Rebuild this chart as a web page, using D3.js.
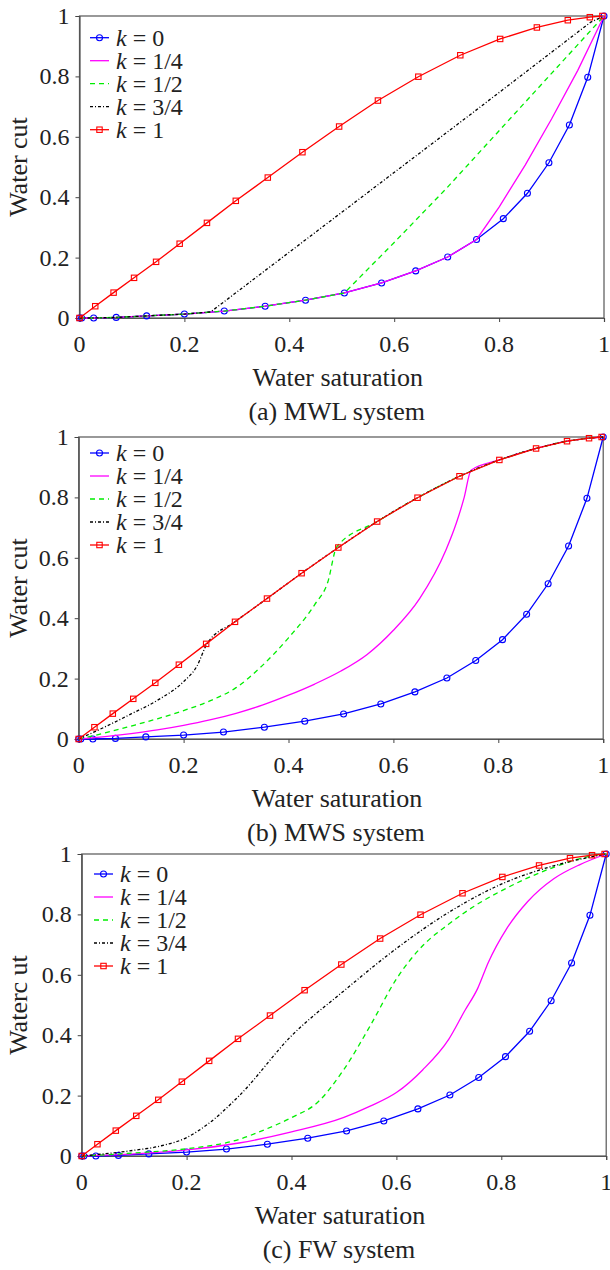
<!DOCTYPE html>
<html>
<head>
<meta charset="utf-8">
<script src="https://cdnjs.cloudflare.com/ajax/libs/d3/7.8.5/d3.min.js"></script>
</head>
<body style="margin:0">
<script>
// k = 0 and k = 1 curves are the same in all three panels
let swK0 = [0, 0.004, 0.027, 0.07, 0.128, 0.2, 0.276, 0.354, 0.431, 0.505, 0.576, 0.641, 0.702, 0.757, 0.808, 0.854, 0.895, 0.934, 0.969, 1];
let fwK0 = [0, 0, 0, 0.002, 0.007, 0.013, 0.023, 0.039, 0.059, 0.083, 0.116, 0.156, 0.202, 0.26, 0.329, 0.413, 0.514, 0.639, 0.797, 1];
let swK1 = [0, 0.03, 0.065, 0.104, 0.146, 0.191, 0.243, 0.298, 0.359, 0.425, 0.495, 0.569, 0.646, 0.726, 0.802, 0.872, 0.931, 0.973, 0.997];
let fwK1 = [0, 0.039, 0.084, 0.133, 0.186, 0.246, 0.315, 0.388, 0.465, 0.549, 0.634, 0.72, 0.799, 0.87, 0.924, 0.962, 0.986, 0.996, 1];

// (a) MWL system
let swA14 = [0, 0.027, 0.07, 0.128, 0.2, 0.276, 0.354, 0.431, 0.505, 0.576, 0.641, 0.702, 0.757, 0.8, 0.85, 0.9, 0.95, 1];
let fwA14 = [0, 0, 0.002, 0.007, 0.013, 0.023, 0.039, 0.059, 0.083, 0.116, 0.156, 0.202, 0.26, 0.367, 0.507, 0.659, 0.82, 1];
let swA12 = [0, 0.027, 0.07, 0.128, 0.2, 0.276, 0.354, 0.431, 0.505, 0.6, 0.7, 0.8, 0.9, 1];
let fwA12 = [0, 0, 0.002, 0.007, 0.013, 0.023, 0.039, 0.059, 0.083, 0.25, 0.43, 0.62, 0.81, 1];
let swA34 = [0, 0.027, 0.07, 0.128, 0.2, 0.25, 0.5, 0.75, 0.975, 1];
let fwA34 = [0, 0, 0.002, 0.007, 0.013, 0.02, 0.35, 0.68, 0.98, 1];

// (b) MWS system
let swB14 = [0, 0.05, 0.1, 0.15, 0.2, 0.25, 0.3, 0.35, 0.4, 0.45, 0.5, 0.55, 0.6, 0.65, 0.7, 0.72, 0.735, 0.748, 0.802, 0.872, 0.931, 0.973, 1];
let fwB14 = [0, 0.008, 0.018, 0.03, 0.045, 0.063, 0.085, 0.112, 0.145, 0.182, 0.225, 0.28, 0.36, 0.465, 0.625, 0.715, 0.8, 0.89, 0.924, 0.962, 0.986, 0.996, 1];
let swB12 = [0, 0.05, 0.1, 0.15, 0.2, 0.25, 0.3, 0.35, 0.4, 0.45, 0.475, 0.492, 0.569, 0.646, 0.726, 0.802, 0.872, 0.931, 0.973, 1];
let fwB12 = [0, 0.02, 0.043, 0.067, 0.094, 0.126, 0.17, 0.243, 0.335, 0.445, 0.52, 0.636, 0.72, 0.799, 0.87, 0.924, 0.962, 0.986, 0.996, 1];
let swB34 = [0, 0.05, 0.1, 0.15, 0.2, 0.225, 0.245, 0.298, 0.359, 0.425, 0.495, 0.569, 0.646, 0.726, 0.802, 0.872, 0.931, 0.973, 1];
let fwB34 = [0, 0.04, 0.083, 0.128, 0.19, 0.24, 0.316, 0.388, 0.465, 0.549, 0.634, 0.72, 0.799, 0.87, 0.924, 0.962, 0.986, 0.996, 1];

// (c) FW system
let swC14 = [0, 0.1, 0.2, 0.3, 0.4, 0.5, 0.55, 0.6, 0.65, 0.7, 0.73, 0.755, 0.775, 0.81, 0.85, 0.9, 0.95, 1];
let fwC14 = [0, 0.007, 0.02, 0.043, 0.08, 0.128, 0.165, 0.21, 0.285, 0.387, 0.48, 0.555, 0.64, 0.752, 0.842, 0.918, 0.965, 1];
let swC12 = [0, 0.1, 0.2, 0.3, 0.35, 0.4, 0.45, 0.5, 0.55, 0.6, 0.65, 0.7, 0.75, 0.8, 0.9, 0.97, 1];
let fwC12 = [0, 0.01, 0.024, 0.055, 0.088, 0.127, 0.178, 0.287, 0.431, 0.586, 0.696, 0.768, 0.829, 0.878, 0.956, 0.993, 1];
let swC34 = [0, 0.1, 0.15, 0.2, 0.24, 0.3, 0.4, 0.5, 0.6, 0.7, 0.8, 0.9, 1];
let fwC34 = [0, 0.019, 0.033, 0.061, 0.105, 0.199, 0.398, 0.547, 0.687, 0.807, 0.9, 0.961, 1];

let ticks = [0, 0.2, 0.4, 0.6, 0.8, 1];
let legendLabels = ["0", "1/4", "1/2", "3/4", "1"];
let captions = ["(a) MWL system", "(b) MWS system", "(c) FW system"];
let yTitles = ["Water cut", "Water cut", "Waterc ut"];

let styles = [
  {color: "#0000ff", dash: null, marker: "circle"},
  {color: "#ff00ff", dash: null, marker: null},
  {color: "#00ee00", dash: "5,4", marker: null},
  {color: "#000000", dash: "3,2,1,2", marker: null},
  {color: "#ff0000", dash: null, marker: "square"}
];

let panels = [
  {top: 16, left: 79.5, legY: 37.7, legX: 90, smooth: false,
   series: [[swK0, fwK0], [swA14, fwA14], [swA12, fwA12], [swA34, fwA34], [swK1, fwK1]]},
  {top: 437, left: 78.7, legY: 453, legX: 90, smooth: true,
   series: [[swK0, fwK0], [swB14, fwB14], [swB12, fwB12], [swB34, fwB34], [swK1, fwK1]]},
  {top: 854, left: 81.7, legY: 874, legX: 94, smooth: true,
   series: [[swK0, fwK0], [swC14, fwC14], [swC12, fwC12], [swC34, fwC34], [swK1, fwK1]]}
];

let W = 524.5, H = 302;

let svg = d3.select("body").append("svg")
  .attr("width", 610)
  .attr("height", 1270)
  .style("display", "block");

svg.append("rect").attr("width", 610).attr("height", 1270).attr("fill", "#fff");

function drawMarker(g, type, x, y, color) {
  if (type === "circle") {
    g.append("circle").attr("cx", x).attr("cy", y).attr("r", 3)
      .attr("fill", "none").attr("stroke", color).attr("stroke-width", 1.1);
  } else if (type === "square") {
    g.append("rect").attr("x", x - 2.7).attr("y", y - 2.7)
      .attr("width", 5.4).attr("height", 5.4)
      .attr("fill", "none").attr("stroke", color).attr("stroke-width", 1.1);
  }
}

function serifText(parent, size) {
  return parent.append("text")
    .attr("font-family", "Liberation Serif")
    .attr("font-size", size)
    .attr("fill", "#222");
}

panels.forEach(function(p, pi) {
  let g = svg.append("g").attr("transform", "translate(" + p.left + "," + p.top + ")");

  let x = d3.scaleLinear().domain([0, 1]).range([0, W]);
  let y = d3.scaleLinear().domain([0, 1]).range([H, 0]);

  // box
  g.append("rect").attr("width", W).attr("height", H)
    .attr("fill", "none").attr("stroke", "#555").attr("stroke-width", 1.2);

  // axis lines and ticks from d3, labels set below with the serif font
  let xAxis = g.append("g").attr("transform", "translate(0," + H + ")")
    .call(d3.axisBottom(x).tickValues(ticks).tickSize(4).tickFormat(""));
  let yAxis = g.append("g")
    .call(d3.axisLeft(y).tickValues(ticks).tickSize(4).tickFormat(""));
  [xAxis, yAxis].forEach(function(a) {
    a.select(".domain").attr("stroke", "#555").attr("stroke-width", 1.2);
    a.selectAll(".tick line").attr("stroke", "#444");
  });
  ticks.forEach(function(t) {
    serifText(g, 24).attr("x", x(t)).attr("y", H + 34)
      .attr("text-anchor", "middle")
      .text(d3.format("~g")(t));
    serifText(g, 24).attr("x", -10).attr("y", y(t) + 8)
      .attr("text-anchor", "end")
      .text(d3.format("~g")(t));
  });

  // curves
  p.series.forEach(function(s, si) {
    let st = styles[si];
    let pts = s[0].map(function(d, i) { return [d, s[1][i]]; });
    let line = d3.line()
      .x(function(d) { return x(d[0]); })
      .y(function(d) { return y(d[1]); })
      .curve(st.marker || !p.smooth ? d3.curveLinear : d3.curveMonotoneX);
    g.append("path").datum(pts)
      .attr("fill", "none")
      .attr("stroke", st.color)
      .attr("stroke-width", 1.3)
      .attr("stroke-dasharray", st.dash)
      .attr("d", line);
    if (st.marker) {
      pts.forEach(function(d) { drawMarker(g, st.marker, x(d[0]), y(d[1]), st.color); });
    }
  });

  // legend
  legendLabels.forEach(function(lab, i) {
    let ly = p.legY + i * 23;
    let st = styles[i];
    svg.append("line").attr("x1", p.legX).attr("x2", p.legX + 19)
      .attr("y1", ly).attr("y2", ly)
      .attr("stroke", st.color).attr("stroke-width", 1.3)
      .attr("stroke-dasharray", st.dash);
    if (st.marker) drawMarker(svg, st.marker, p.legX + 9.5, ly, st.color);
    let t = serifText(svg, 24).attr("x", p.legX + 26).attr("y", ly + 8);
    t.append("tspan").attr("font-style", "italic").text("k");
    t.append("tspan").text(" = " + lab);
  });

  // axis titles and caption
  serifText(svg, 26)
    .attr("x", p.left + W / 2 - 4).attr("y", p.top + H + 68)
    .attr("text-anchor", "middle")
    .text("Water saturation");
  serifText(svg, 26)
    .attr("transform", "translate(27," + (p.top + H / 2) + ")rotate(-90)")
    .attr("text-anchor", "middle")
    .text(yTitles[pi]);
  serifText(svg, 26)
    .attr("x", p.left + W / 2 - 5).attr("y", p.top + H + 102)
    .attr("text-anchor", "middle")
    .text(captions[pi]);
});
</script>
</body>
</html>
